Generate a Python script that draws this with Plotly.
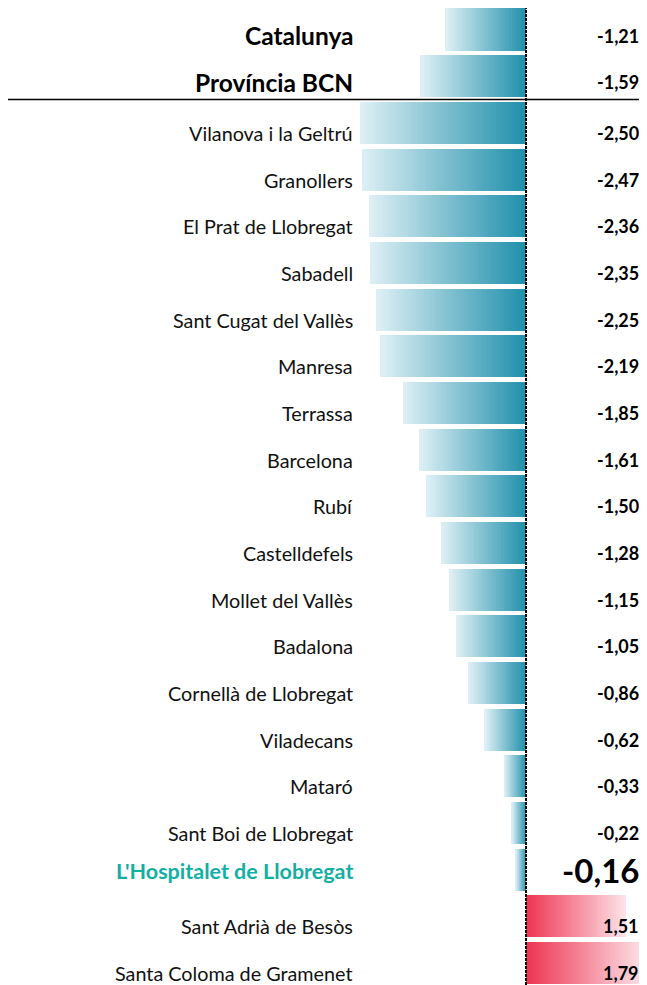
import plotly.graph_objects as go

# ---------------- data ----------------
categories = [
    "Catalunya", "Província BCN", "Vilanova i la Geltrú", "Granollers",
    "El Prat de Llobregat", "Sabadell", "Sant Cugat del Vallès", "Manresa",
    "Terrassa", "Barcelona", "Rubí", "Castelldefels", "Mollet del Vallès",
    "Badalona", "Cornellà de Llobregat", "Viladecans", "Mataró",
    "Sant Boi de Llobregat", "L'Hospitalet de Llobregat",
    "Sant Adrià de Besòs", "Santa Coloma de Gramenet",
]
values = [
    -1.21, -1.59, -2.50, -2.47, -2.36, -2.35, -2.25, -2.19, -1.85, -1.61,
    -1.50, -1.28, -1.15, -1.05, -0.86, -0.62, -0.33, -0.22, -0.16, 1.51, 1.79,
]
value_labels = [f"{v:.2f}".replace(".", ",") for v in values]
aggregates = ["Catalunya", "Província BCN"]
highlight = "L'Hospitalet de Llobregat"

# ---------------- styling ----------------
OFF = 8                      # page body margin of the html page
W, H = 647 - OFF, 985 - OFF  # figure size so it ends at the window edge
ZERO = 526 - OFF             # pixel of x = 0 inside the figure
PX_PER_UNIT = 66.5
ROW0 = 29.5 - OFF            # centre of first row
PITCH = 46.68
NEG_DARK, NEG_LIGHT = (31, 143, 171), (223, 240, 245)
POS_DARK, POS_LIGHT = (238, 52, 82), (253, 228, 233)
TEAL_TEXT = "#12AFA5"
FONT = "Lato"
N_SEG = 60


def mix(c1, c2, t):
    return "rgb(%d,%d,%d)" % tuple(round(a + (b - a) * t) for a, b in zip(c1, c2))


ypos = list(range(len(categories)))
fig = go.Figure()

# gradient bars: each bar split in N_SEG slices from zero outward
for k in range(N_SEG):
    t = (k + 0.5) / N_SEG
    cols = [mix(NEG_DARK, NEG_LIGHT, t) if v < 0 else mix(POS_DARK, POS_LIGHT, t)
            for v in values]
    fig.add_trace(go.Bar(
        y=ypos,
        x=[v / N_SEG * 1.02 if k < N_SEG - 1 else v / N_SEG for v in values],
        base=[v * k / N_SEG for v in values],
        orientation="h",
        width=0.9,
        marker=dict(color=cols, line=dict(width=0)),
        hoverinfo="skip",
        showlegend=False,
    ))

# category labels and value labels
for i, (cat, lab) in enumerate(zip(categories, value_labels)):
    if cat in aggregates:
        fcat = dict(family=FONT, size=24.5, color="black", weight="bold")
        fval = dict(family=FONT, size=18, color="black", weight="bold")
        sh = -6
    elif cat == highlight:
        fcat = dict(family=FONT, size=21.5, color=TEAL_TEXT, weight="bold")
        fval = dict(family=FONT, size=33, color="black", weight="bold")
        sh = -1
    else:
        fcat = dict(family=FONT, size=19.8, color="#111111")
        fval = dict(family=FONT, size=18, color="black", weight="bold")
        sh = -10
    fig.add_annotation(x=(355 - OFF) / W, xref="paper", y=i, yref="y", text=cat,
                       showarrow=False, xanchor="right", yanchor="middle",
                       yshift=sh, font=fcat)
    fig.add_annotation(x=(641 - OFF) / W, xref="paper", y=i, yref="y", text=lab,
                       showarrow=False, xanchor="right", yanchor="middle",
                       yshift=sh if cat != highlight else 0, font=fval)

# zero line (dashed) and separator under the aggregates
fig.add_shape(type="line", xref="x", x0=0, x1=0, yref="paper", y0=0,
              y1=1, line=dict(color="black", width=2, dash="3px,1px"))
fig.add_shape(type="line", xref="paper", x0=0, x1=1, yref="y", y0=1.5,
              y1=1.5, line=dict(color="black", width=1.6))

r0 = -ROW0 / PITCH
fig.update_layout(
    width=W, height=H,
    margin=dict(l=0, r=0, t=0, b=0),
    paper_bgcolor="white", plot_bgcolor="white",
    barmode="overlay", bargap=0,
    xaxis=dict(range=[-ZERO / PX_PER_UNIT, (W - ZERO) / PX_PER_UNIT],
               visible=False, fixedrange=True),
    yaxis=dict(range=[r0 + H / PITCH, r0], visible=False, fixedrange=True),
    showlegend=False,
)

fig.write_html("out.html")
